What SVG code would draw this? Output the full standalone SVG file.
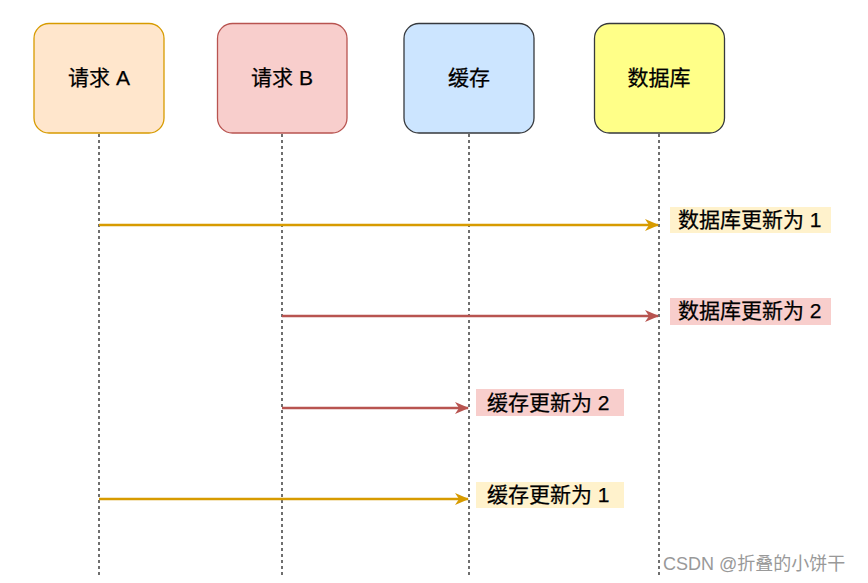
<svg xmlns="http://www.w3.org/2000/svg" width="868" height="583" viewBox="0 0 868 583">
<style>
.t{font-family:"Liberation Sans","Noto Sans CJK SC",sans-serif;font-size:21px;fill:#000;stroke:#000;stroke-width:0.25;}
.box{stroke-width:1.3;}
.life{stroke:#333;stroke-width:1.4;stroke-dasharray:3 3;fill:none;}
.la{stroke:#d79b00;stroke-width:2.5;fill:none;}
.lb{stroke:#b85450;stroke-width:2.5;fill:none;}
.wm{font-family:"Liberation Sans","Noto Sans CJK SC",sans-serif;font-size:18px;fill:#999;}
</style>
<defs>
<marker id="ma" viewBox="0 0 14 12" refX="13" refY="6" markerWidth="14" markerHeight="12" markerUnits="userSpaceOnUse" orient="auto">
<path d="M0,0 L14,6 L0,12 L4,6 Z" fill="#d79b00"/>
</marker>
<marker id="mb" viewBox="0 0 14 12" refX="13" refY="6" markerWidth="14" markerHeight="12" markerUnits="userSpaceOnUse" orient="auto">
<path d="M0,0 L14,6 L0,12 L4,6 Z" fill="#b85450"/>
</marker>
</defs>
<rect width="868" height="583" fill="#fff"/>
<g id="lifelines">
<line class="life" x1="99" y1="134" x2="99" y2="575"/>
<line class="life" x1="282" y1="134" x2="282" y2="575"/>
<line class="life" x1="469" y1="134" x2="469" y2="575"/>
<line class="life" x1="659" y1="134" x2="659" y2="575"/>
</g>
<g id="reqA">
<rect class="box" x="34" y="23.5" width="130" height="109.5" rx="15" fill="#ffe6cc" stroke="#d79b00"/>
<text class="t" x="99" y="85" text-anchor="middle">请求 A</text>
</g>
<g id="reqB">
<rect class="box" x="217.5" y="23.5" width="129.5" height="109.5" rx="15" fill="#f8cecc" stroke="#b85450"/>
<text class="t" x="282" y="85" text-anchor="middle">请求 B</text>
</g>
<g id="cache">
<rect class="box" x="404" y="23.5" width="130" height="109.5" rx="15" fill="#cce5ff" stroke="#36393d"/>
<text class="t" x="469" y="85" text-anchor="middle">缓存</text>
</g>
<g id="db">
<rect class="box" x="594.5" y="23.5" width="130" height="109.5" rx="15" fill="#ffff88" stroke="#36393d"/>
<text class="t" x="659" y="85" text-anchor="middle">数据库</text>
</g>
<g id="connectors">
<line class="la" x1="99" y1="225" x2="658" y2="225" marker-end="url(#ma)"/>
<line class="lb" x1="282" y1="316" x2="658" y2="316" marker-end="url(#mb)"/>
<line class="lb" x1="282" y1="408" x2="468" y2="408" marker-end="url(#mb)"/>
<line class="la" x1="99" y1="499" x2="468" y2="499" marker-end="url(#ma)"/>
</g>
<g id="label1">
<rect x="670" y="207" width="161" height="26" fill="#fff2cc"/>
<text class="t" x="678" y="227">数据库更新为 1</text>
</g>
<g id="label2">
<rect x="670" y="298" width="161" height="27" fill="#f8cecc"/>
<text class="t" x="678" y="318">数据库更新为 2</text>
</g>
<g id="label3">
<rect x="476" y="389" width="148" height="27" fill="#f8cecc"/>
<text class="t" x="487" y="410">缓存更新为 2</text>
</g>
<g id="label4">
<rect x="476" y="482" width="148" height="26" fill="#fff2cc"/>
<text class="t" x="487" y="502">缓存更新为 1</text>
</g>
<text class="wm" x="663" y="570">CSDN @折叠的小饼干</text>
</svg>
